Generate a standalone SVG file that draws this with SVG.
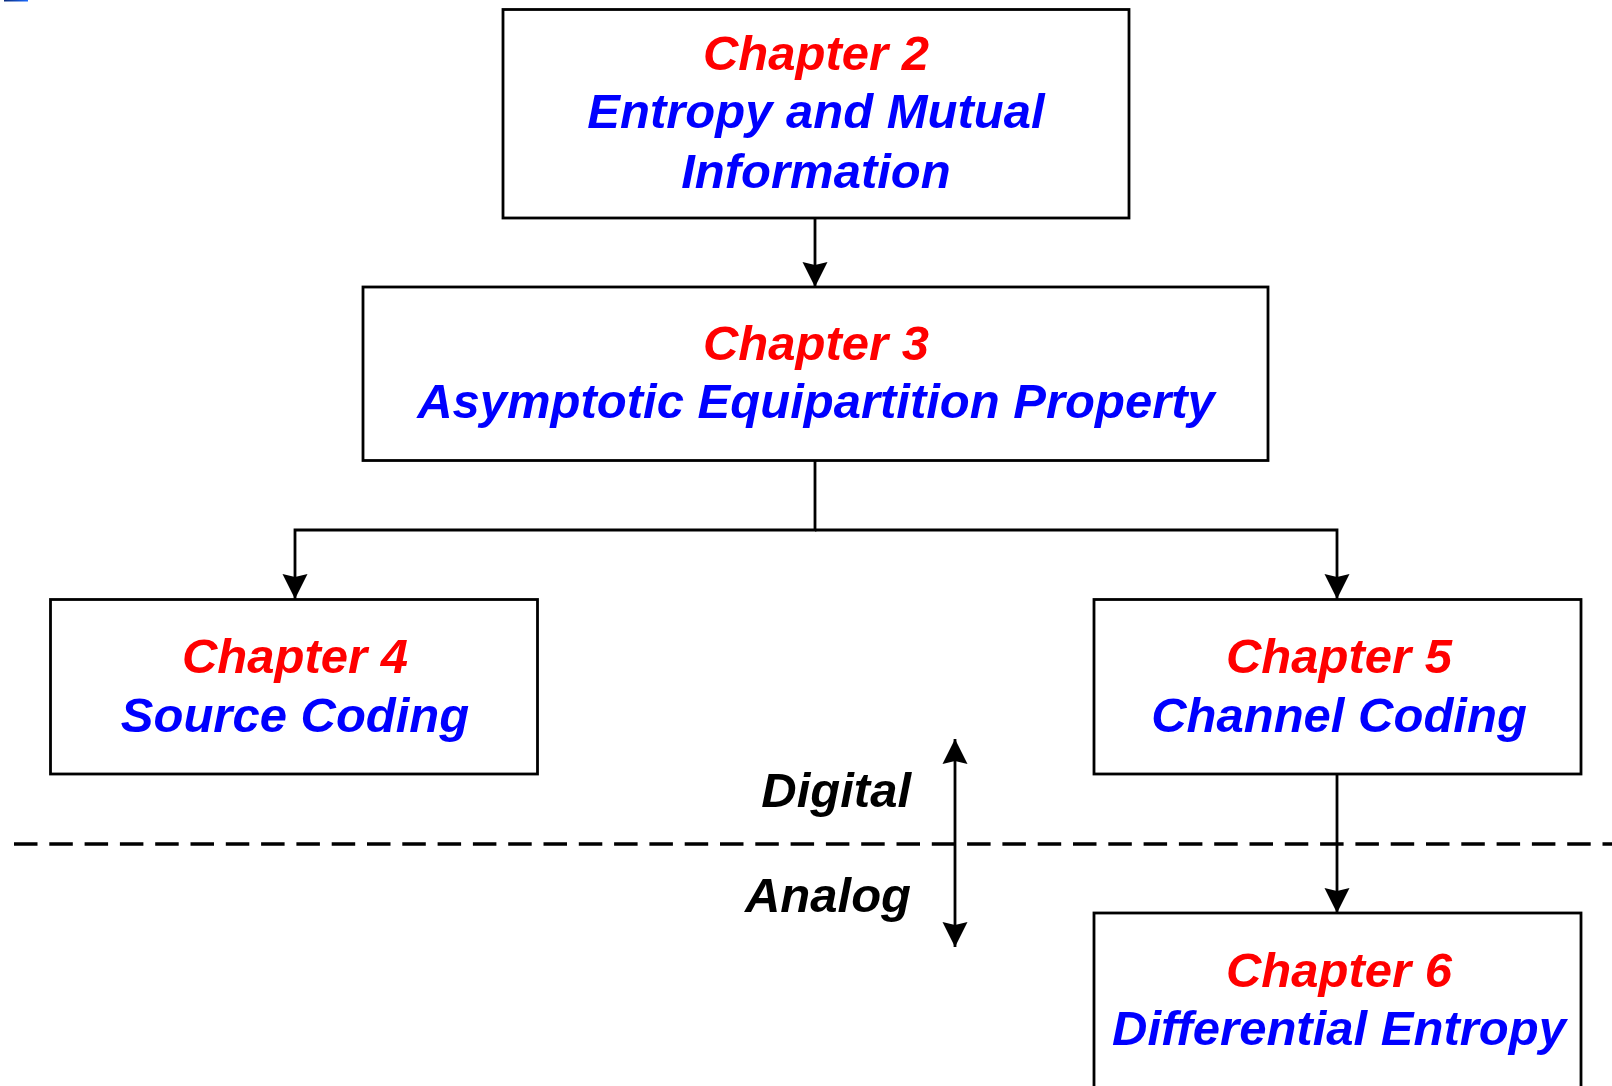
<svg xmlns="http://www.w3.org/2000/svg" width="1612" height="1086" viewBox="0 0 1612 1086">
<defs>
<linearGradient id="bl" x1="0" y1="0" x2="1" y2="0"><stop offset="0" stop-color="#0a2a7a"/><stop offset="1" stop-color="#1a6aff"/></linearGradient>
<marker id="ah" markerWidth="26" markerHeight="26" viewBox="0 0 26 26" refX="25" refY="13" orient="auto" markerUnits="userSpaceOnUse"><path d="M0,0.5 L25,13 L0,25.5 L3,13 Z" fill="#000"/></marker>
</defs>
<style>
.box{fill:#fff;stroke:#000;stroke-width:2.8}
.t{font-family:"Liberation Sans",Arial,sans-serif;font-weight:bold;font-style:italic;font-size:49px;text-anchor:middle}
.r{fill:#ff0000}
.b{fill:#0000ff}
.k{fill:#000;text-anchor:end}
.ln{fill:none;stroke:#000;stroke-width:2.8}
.dash{fill:none;stroke:#000;stroke-width:3.4;stroke-dasharray:23.5,11.8}
</style>
<rect width="1612" height="1086" fill="#fff"/>
<rect x="4" y="0" width="24" height="1.5" fill="url(#bl)"/>
<g id="connectors">
<line class="ln" x1="815" y1="218" x2="815" y2="287" marker-end="url(#ah)"/>
<polyline class="ln" points="815,460 815,530 295,530 295,599" marker-end="url(#ah)"/>
<polyline class="ln" points="815,530 1337,530 1337,599" marker-end="url(#ah)"/>
<line class="ln" x1="1337" y1="774" x2="1337" y2="913" marker-end="url(#ah)"/>
<line class="dash" x1="14" y1="844" x2="1612" y2="844"/>
<line class="ln" x1="955" y1="780" x2="955" y2="739" marker-end="url(#ah)"/>
<line class="ln" x1="955" y1="780" x2="955" y2="947" marker-end="url(#ah)"/>
</g>
<g id="ch2">
<rect class="box" x="503" y="9.5" width="626" height="208.5"/>
<text class="t r" x="816" y="70">Chapter 2</text>
<text class="t b" x="816" y="128">Entropy and Mutual</text>
<text class="t b" x="816" y="188">Information</text>
</g>
<g id="ch3">
<rect class="box" x="363" y="287" width="905" height="173.5"/>
<text class="t r" x="816" y="360">Chapter 3</text>
<text class="t b" x="816" y="418">Asymptotic Equipartition Property</text>
</g>
<g id="ch4">
<rect class="box" x="50.5" y="599.5" width="487" height="174.5"/>
<text class="t r" x="295" y="673">Chapter 4</text>
<text class="t b" x="295" y="732">Source Coding</text>
</g>
<g id="ch5">
<rect class="box" x="1094" y="599.5" width="487" height="174.5"/>
<text class="t r" x="1339" y="673">Chapter 5</text>
<text class="t b" x="1339" y="732">Channel Coding</text>
</g>
<g id="ch6">
<rect class="box" x="1094" y="913" width="487" height="200"/>
<text class="t r" x="1339" y="987">Chapter 6</text>
<text class="t b" x="1339" y="1045">Differential Entropy</text>
</g>
<g id="labels">
<text class="t k" x="911" y="807">Digital</text>
<text class="t k" x="911" y="912">Analog</text>
</g>
</svg>
